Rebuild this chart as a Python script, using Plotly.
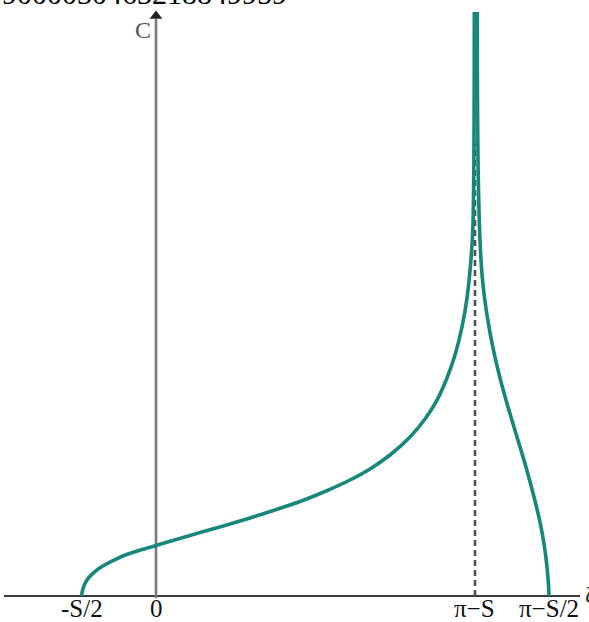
import plotly.graph_objects as go

# ---- data ----
S = 1.0
tick_vals = [-S / 2, 0.0, 3.14159 - S, 3.14159 - S / 2]
tick_text = ["-S/2", "0", "π−S", "π−S/2"]

left_zeta = [-0.5000, -0.4900, -0.4650, -0.4200, -0.3550, -0.2753, -0.1880, -0.0940, 0.0000,
             0.1477, 0.2954, 0.4632, 0.6311, 0.7989, 0.9668, 1.1346, 1.3025, 1.4367, 1.5710,
             1.7053, 1.8060, 1.8865, 1.9537, 2.0074, 2.0544, 2.0880, 2.1115, 2.1269, 2.1322,
             2.1350, 2.1363, 2.1370]
left_C = [0.000, 0.130, 0.270, 0.400, 0.520, 0.629, 0.724, 0.802, 0.871,
          0.983, 1.095, 1.216, 1.345, 1.483, 1.629, 1.802, 2.000, 2.190, 2.431,
          2.741, 3.052, 3.379, 3.759, 4.155, 4.638, 5.138, 5.707, 6.310, 7.000,
          7.862, 8.897, 10.069]

right_zeta = [2.1571, 2.1577, 2.1604, 2.1652, 2.1752, 2.1920, 2.2222, 2.2625, 2.3095, 2.3632,
              2.4236, 2.4840, 2.5378, 2.5780, 2.6083, 2.6250, 2.6351, 2.6384]
right_C = [10.069, 8.897, 7.862, 7.000, 6.138, 5.448, 4.845, 4.276, 3.759, 3.259,
           2.741, 2.224, 1.707, 1.276, 0.845, 0.500, 0.190, 0.000]

top_text = "9000030463218849959"

# ---- layout constants ----
W, H = 589, 622
X_RANGE = [-1.0473, 2.9070]
Y_RANGE = [-0.4483, 10.276]
TEAL = "#17877c"
SERIF = "Liberation Serif, serif"

fig = go.Figure()

# axes drawn as shapes
fig.add_shape(type="line", x0=-1.02, x1=2.847, y0=0, y1=0,
              line=dict(color="#3a3a3a", width=2.2), layer="below")
fig.add_shape(type="line", x0=0, x1=0, y0=-0.04, y1=9.95,
              line=dict(color="#7a7a7a", width=2.6), layer="below")
# dashed asymptote
fig.add_shape(type="line", x0=tick_vals[2], x1=tick_vals[2], y0=0, y1=7.8,
              line=dict(color="#505050", width=2.6, dash="6px,4px"), layer="below")

# arrowhead on vertical axis
fig.add_trace(go.Scatter(x=[0], y=[10.0], mode="markers",
                         marker=dict(symbol="triangle-up", size=11, color="#222222",
                                     line=dict(width=0)),
                         hoverinfo="skip", showlegend=False))

# curve branches
for zx, cy in ((left_zeta, left_C), (right_zeta, right_C)):
    fig.add_trace(go.Scatter(x=zx, y=cy, mode="lines",
                             line=dict(color=TEAL, width=3.6, shape="spline", smoothing=0.8),
                             hoverinfo="skip", showlegend=False))

annotations = []
for v, t in zip(tick_vals, tick_text):
    annotations.append(dict(x=v, xref="x", y=1 - 608 / H, yref="paper", text=t,
                            showarrow=False, xanchor="center", yanchor="middle",
                            font=dict(family=SERIF, size=25, color="#111111")))
# axis labels
annotations.append(dict(x=-0.09, xref="x", y=1 - 30 / H, yref="paper", text="C",
                        showarrow=False, xanchor="center", yanchor="middle",
                        font=dict(family=SERIF, size=24, color="#555555")))
annotations.append(dict(x=2.87, xref="x", y=1 - 594 / H, yref="paper", text="ζ",
                        showarrow=False, xanchor="left", yanchor="middle",
                        font=dict(family=SERIF, size=24, color="#333333")))
# cut-off text at top
annotations.append(dict(x=0, xref="paper", y=1 - 12 / H, yref="paper", text=top_text,
                        showarrow=False, xanchor="left", yanchor="bottom",
                        font=dict(family=SERIF, size=30, color="#000000")))

fig.update_layout(
    width=W, height=H,
    margin=dict(l=0, r=0, t=0, b=0),
    paper_bgcolor="white", plot_bgcolor="white",
    xaxis=dict(range=X_RANGE, visible=False, fixedrange=True),
    yaxis=dict(range=Y_RANGE, visible=False, fixedrange=True),
    annotations=annotations,
    showlegend=False,
)

fig.write_html("out.html")
